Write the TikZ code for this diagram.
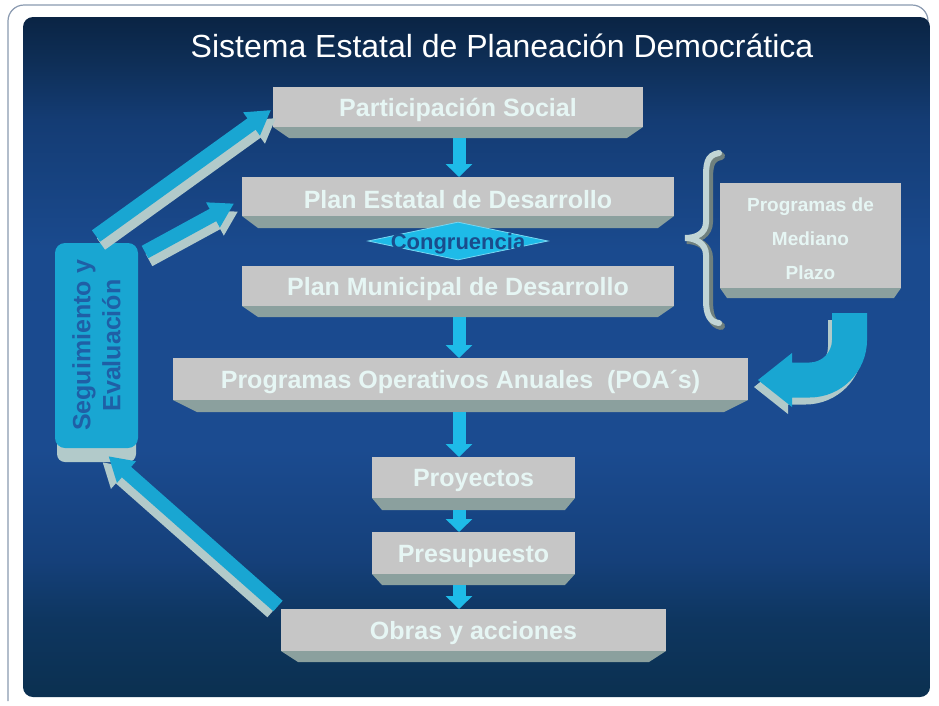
\documentclass[tikz,border=0pt]{standalone}
\usepackage{fontspec}
\setmainfont{Liberation Sans}
\usetikzlibrary{arrows.meta,shapes.geometric,calc}
\definecolor{boxgray}{HTML}{C6C6C6}
\definecolor{bevelc}{HTML}{8BA09E}
\definecolor{boxtext}{HTML}{E6F6F4}
\definecolor{cyanA}{HTML}{1EBBE8}
\definecolor{cyanB}{HTML}{19A6D2}
\definecolor{sidegray}{HTML}{B2CACA}
\definecolor{syetext}{HTML}{1F5FA6}
\definecolor{framec}{HTML}{8A9AB0}
\definecolor{congtext}{HTML}{1A4C8C}
\definecolor{bg0}{HTML}{0A2444}
\definecolor{bg1}{HTML}{0E2E56}
\definecolor{bg2}{HTML}{143C74}
\definecolor{bg3}{HTML}{1A4A8E}
\definecolor{bg4}{HTML}{1B4B90}
\definecolor{bg5}{HTML}{15407A}
\definecolor{bg6}{HTML}{0E3660}
\definecolor{bg7}{HTML}{0B3050}
\pgfdeclareverticalshading{panelbg}{100bp}{color(0bp)=(bg7); color(25bp)=(bg7); color(30.7bp)=(bg6); color(35.1bp)=(bg5); color(43.2bp)=(bg4); color(57.9bp)=(bg3); color(67.4bp)=(bg2); color(71.8bp)=(bg1); color(75bp)=(bg0); color(100bp)=(bg0)}
% name, x1, y1, x2, y2, depth, slant, text
\newcommand\bevbox[8]{%
  \fill[bevelc] (#2,#5) -- (#4,#5) -- ({#4-#7},{#5+#6}) -- ({#2+#7},{#5+#6}) -- cycle;
  \pgfmathsetmacro\bw{#4-#2}%
  \pgfmathsetmacro\bh{#5-#3}%
  \node[boxnode, minimum width=\bw pt, minimum height=\bh pt] (#1) at ({(#2+#4)/2},{(#3+#5)/2}) {};
  \node[boxlabel] (#1t) at ([yshift=-3pt]#1.center) {#8};
  \coordinate (#1b) at ({(#2+#4)/2},{#5+#6});
}
\tikzset{
  boxnode/.style={fill=boxgray, inner sep=0pt, outer sep=0pt},
  boxlabel/.style={inner sep=0pt, text=boxtext, font=\bfseries\fontsize{25}{30}\selectfont, align=center},
  downarr/.style={draw=cyanA, line width=13pt, -{Triangle[width=26pt,length=13pt]}},
  diagarr/.style={draw=cyanB, line width=14pt, -{Triangle[width=27pt,length=24pt]}},
  diagside/.style={draw=sidegray, line width=14pt, -{Triangle[width=27pt,length=24pt]}},
}
\begin{document}
\begin{tikzpicture}[x=1pt,y=-1pt]
\fill[white] (0,0) rectangle (939,705);
\useasboundingbox (0,0) rectangle (939,705);
% frame and panel
\draw[framec, line width=1.2pt, rounded corners=16pt] (8,701) -- (8,5) -- (928,5) -- (928,60);
\shade[shading=panelbg, rounded corners=10pt] (23,17) rectangle (930,697);
% title
\node[text=white, font=\fontsize{32}{36}\selectfont] (title) at (502,46) {Sistema Estatal de Planeación Democrática};
% boxes
\bevbox{ps}{273}{87}{643}{127}{11}{16}{Participación Social}
\bevbox{ped}{242}{177}{674}{216}{12}{16}{Plan Estatal de Desarrollo}
\bevbox{pmd}{242}{266}{674}{306}{11}{16}{Plan Municipal de Desarrollo}
\bevbox{poa}{173}{358}{748}{400}{12}{24}{Programas Operativos Anuales\ \ (POA´s)}
\bevbox{proy}{372}{457}{575}{498}{12}{10}{Proyectos}
\bevbox{pres}{372}{532}{575}{574}{11}{10}{Presupuesto}
\bevbox{obras}{281}{609}{666}{651}{11}{17}{Obras y acciones}
\bevbox{pmp}{720}{183}{901}{288}{10}{7}{}
\node[text=boxtext, font=\bfseries\fontsize{19}{34}\selectfont, align=center] (pmptext) at ([yshift=-3pt]pmp.center) {Programas de\\Mediano\\Plazo};
% congruencia diamond
\node[diamond, minimum width=180pt, minimum height=38pt, inner sep=0pt, fill=cyanA, draw=cyanA!60!white, line width=0.8pt] (cong) at (458,241) {};
\node[text=congtext, font=\bfseries\fontsize{22}{24}\selectfont] (congt) at ([yshift=-3pt]cong.center) {Congruencia};
% down arrows
\coordinate (col) at (459,0);
\draw[downarr] (col |- psb) -- (col |- ped.north);
\draw[downarr] (col |- pmdb) -- (col |- poa.north);
\draw[downarr] (col |- poab) -- (col |- proy.north);
\draw[downarr] (col |- proyb) -- (col |- pres.north);
\draw[downarr] (col |- presb) -- (col |- obras.north);
% seguimiento y evaluacion
\fill[sidegray, rounded corners=8pt] (57,262) rectangle (136,462);
\node[fill=cyanB, rounded corners=10pt, minimum width=83pt, minimum height=205pt, inner sep=0pt] (sye) at (96.5,345.5) {};
\node[rotate=90, text=syetext, align=center, font=\bfseries\fontsize{25}{30}\selectfont] (syet) at (sye) {Seguimiento y\\Evaluación};
% diagonal arrows
\coordinate (a1t) at (96,236);
\coordinate (a1h) at ([shift={(-2,3)}]ps.west);
\coordinate (a2t) at (145,252);
\coordinate (a2h) at ([shift={(-8,7)}]ped.west);
\coordinate (a3t) at ([shift={(-3,-24)}]obras.west);
\coordinate (a3h) at ([shift={(12,8)}]sye.south);
\draw[diagside] ([shift={(5,8)}]a1t) -- ([shift={(5,8)}]a1h);
\draw[diagarr] (a1t) -- (a1h);
\draw[diagside] ([shift={(4,8)}]a2t) -- ([shift={(4,8)}]a2h);
\draw[diagarr] (a2t) -- (a2h);
\draw[diagside] ([shift={(-6,6)}]a3t) -- ([shift={(-6,6)}]a3h);
\draw[diagarr] (a3t) -- (a3h);
% brace
\draw[draw=bevelc!80!black, line width=8pt, line cap=round] (721,156) .. controls (709,158) and (709,168) .. (709,183) -- (709,222) .. controls (709,234) and (698,240) .. (687,240) .. controls (698,240) and (709,246) .. (709,258) -- (709,300) .. controls (709,316) and (712,324) .. (721,326);
\draw[draw=sidegray!80!white, line width=6pt, line cap=round] (719,153) .. controls (706,155) and (706,165) .. (706,180) -- (706,222) .. controls (706,234) and (695,238) .. (685,238) .. controls (695,238) and (706,243) .. (706,255) -- (706,300) .. controls (706,315) and (710,322) .. (719,323);
% curved arrow
\fill[sidegray, shift={(-4,7)}] (867,313) -- (867,340) arc[start angle=0,end angle=90,radius=57.5] -- (792,397.5) -- (792,407) -- (758,380) -- (792,353) -- (792,362.5) -- (809.5,362.5) arc[start angle=90,end angle=0,radius=22.5] -- (832,313) -- cycle;
\fill[cyanB] (867,313) -- (867,340) arc[start angle=0,end angle=90,radius=57.5] -- (792,397.5) -- (792,407) -- (758,380) -- (792,353) -- (792,362.5) -- (809.5,362.5) arc[start angle=90,end angle=0,radius=22.5] -- (832,313) -- cycle;
\end{tikzpicture}
\end{document}
